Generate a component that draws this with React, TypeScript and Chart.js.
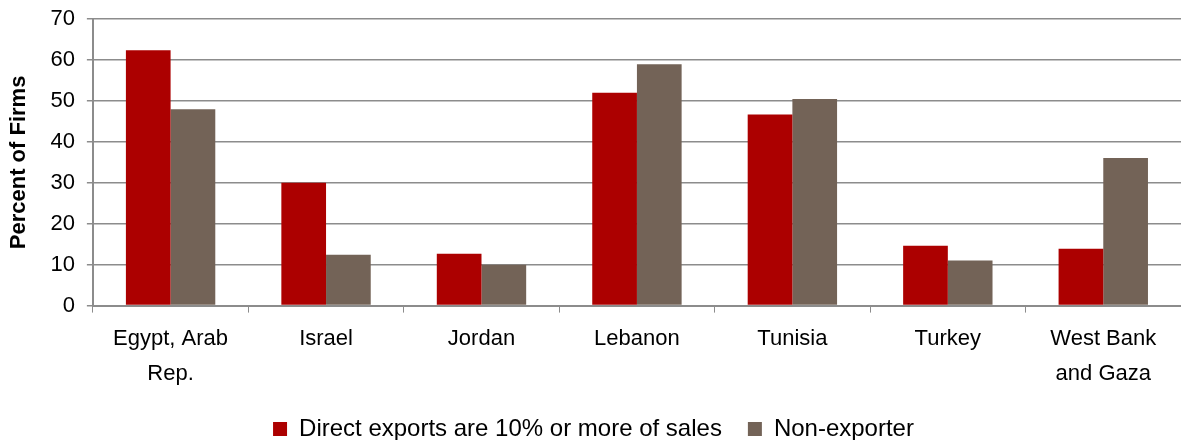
import React, { useEffect, useRef } from "react";
import { Chart, registerables } from "chart.js";

Chart.register(...registerables);

const categories: string[][] = [
  ["Egypt, Arab", "Rep."],
  ["Israel"],
  ["Jordan"],
  ["Lebanon"],
  ["Tunisia"],
  ["Turkey"],
  ["West Bank", "and Gaza"],
];
const directExporters = [62.4, 30.0, 12.7, 52.0, 46.7, 14.6, 13.9];
const nonExporters = [48.0, 12.4, 10.0, 59.0, 50.5, 11.0, 36.1];
const seriesNames = ["Direct exports are 10% or more of sales", "Non-exporter"];
const yTitle = "Percent of Firms";

const FONT = "'Liberation Sans', Arial, sans-serif";

const legendTrim = {
  id: "legendTrim",
  beforeLayout(chart: any) {
    const lg = chart.legend;
    if (lg && !lg.__trimmed) {
      const orig = lg.fit.bind(lg);
      lg.fit = function () {
        orig();
        this.height -= 11;
      };
      lg.__trimmed = true;
    }
  },
  afterLayout(chart: any) {
    const lg = chart.legend;
    if (lg) {
      lg.top -= 10;
      lg.bottom -= 10;
    }
  },
};

export default function App() {
  const ref = useRef<HTMLCanvasElement>(null);
  useEffect(() => {
    document.body.style.margin = "0";
    document.body.style.overflow = "hidden";
    const ctx = ref.current!;
    const chart = new Chart(ctx, {
      type: "bar",
      data: {
        labels: categories,
        datasets: [
          {
            label: seriesNames[0],
            data: directExporters,
            backgroundColor: "#AC0000",
            categoryPercentage: 0.575,
            barPercentage: 1.0,
          },
          {
            label: seriesNames[1],
            data: nonExporters,
            backgroundColor: "#736357",
            categoryPercentage: 0.575,
            barPercentage: 1.0,
          },
        ],
      },
      plugins: [legendTrim],
      options: {
        animation: false,
        responsive: false,
        maintainAspectRatio: false,
        layout: { padding: { top: 0, right: 0, left: 6, bottom: 0 } },
        plugins: {
          legend: {
            position: "bottom",
            labels: {
              boxWidth: 14,
              boxHeight: 14,
              padding: 26,
              color: "#000",
              font: { family: FONT, size: 24 },
            },
          },
          tooltip: { enabled: false },
        },
        scales: {
          x: {
            grid: {
              display: true,
              offset: true,
              drawOnChartArea: false,
              drawTicks: true,
              tickLength: 7,
              color: "#8c8c8c",
            },
            border: { color: "#8c8c8c", width: 2 },
            ticks: {
              color: "#000",
              font: { family: FONT, size: 22, lineHeight: 1.6 },
              maxRotation: 0,
              autoSkip: false,
              padding: 9,
            },
          },
          y: {
            min: 0,
            max: 70,
            ticks: {
              stepSize: 10,
              color: "#000",
              font: { family: FONT, size: 22 },
              padding: 12,
            },
            grid: {
              color: "#8c8c8c",
              lineWidth: 1.5,
              tickLength: 6,
            },
            border: { color: "#8c8c8c", width: 2 },
            title: {
              display: true,
              text: yTitle,
              color: "#000",
              font: { family: FONT, size: 22, weight: "bold" },
              padding: { top: 0, bottom: 6 },
            },
          },
        },
      },
    });
    return () => chart.destroy();
  }, []);
  return (
    <div style={{ position: "relative", width: 1181, height: 443, overflow: "hidden" }}>
      <canvas
        ref={ref}
        width={1181}
        height={456}
        style={{ display: "block", position: "absolute", left: 0, top: -6 }}
      />
    </div>
  );
}
